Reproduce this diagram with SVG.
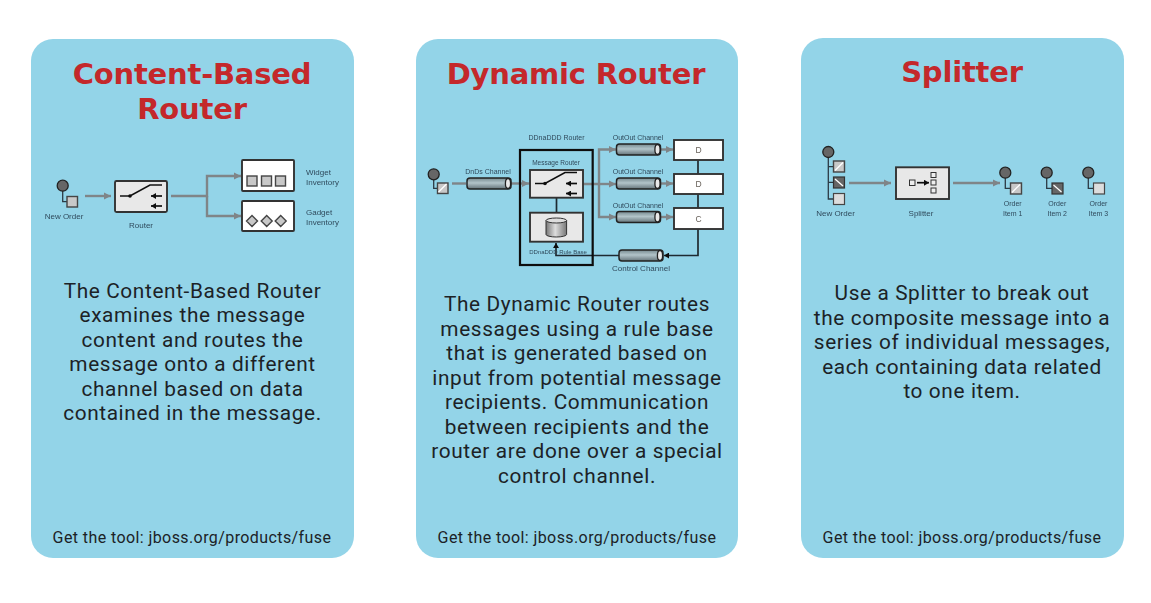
<svg xmlns="http://www.w3.org/2000/svg" width="1151" height="603" viewBox="0 0 1151 603">
<style>
.card{fill:#93d4e8}
.title{font:bold 29px "DejaVu Sans","Liberation Sans",sans-serif;letter-spacing:-.2px;fill:#c4282b;text-anchor:middle}
.body{font:20.800px Roboto,"Liberation Sans",sans-serif;letter-spacing:.62px;fill:#1c2226;text-anchor:middle}
.foot{font:16px Roboto,"Liberation Sans",sans-serif;letter-spacing:.41px;fill:#1c2226;text-anchor:middle}
.lb{font:7px "Liberation Sans",sans-serif;fill:#2f4a5c;text-anchor:middle}
.lg{font:8px "Liberation Sans",sans-serif;fill:#2f4a5c;text-anchor:middle}
.lbs{font:8px "Liberation Sans",sans-serif;fill:#2f4a5c}
.let{font:8.500px "Liberation Sans",sans-serif;fill:#665f58;text-anchor:middle}
.soft{filter:url(#soft)}
.flow{fill:none;stroke:#7f8588;stroke-width:2.4}
.blk{fill:none;stroke:#1e2a30;stroke-width:1.7}
.box{fill:#e8e8e8;stroke:#333;stroke-width:1.9}
.wbox{fill:#fff;stroke:#333;stroke-width:1.9}
.sq{fill:#c8c8c8;stroke:#444;stroke-width:1.4}
.dot{fill:#666;stroke:#222;stroke-width:1.3}
.tie{fill:none;stroke:#2a3a44;stroke-width:1.3}
.sw{fill:none;stroke:#111;stroke-width:1.7}
</style>
<defs>
<filter id="soft" x="-5%" y="-5%" width="110%" height="110%"><feGaussianBlur stdDeviation="0.55"/></filter>
<linearGradient id="pg" x1="0" y1="0" x2="0" y2="1"><stop offset="0" stop-color="#75898f"/><stop offset=".45" stop-color="#b2c4c9"/><stop offset="1" stop-color="#647379"/></linearGradient>
<linearGradient id="cg" x1="0" y1="0" x2="1" y2="0"><stop offset="0" stop-color="#777"/><stop offset=".45" stop-color="#ddd"/><stop offset="1" stop-color="#777"/></linearGradient>
<marker id="ga" markerUnits="userSpaceOnUse" markerWidth="8" markerHeight="8" refX="7" refY="4" orient="auto"><path d="M0 0.500L7 4L0 7.500z" fill="#7f8588"/></marker>
<marker id="ka" markerUnits="userSpaceOnUse" markerWidth="6" markerHeight="6" refX="5" refY="3" orient="auto"><path d="M0 0L5 3L0 6z" fill="#111"/></marker>
<g id="pipe"><rect x="0" y="-5.500" width="44" height="11" rx="3" fill="url(#pg)" stroke="#222" stroke-width="1.500"/><ellipse cx="41" cy="0" rx="2.600" ry="5" fill="#e8e8e8" stroke="#222" stroke-width="1.300"/></g>
<g id="sw"><path class="sw" d="M0 11H10L30 0H42"/><circle cx="10" cy="11" r="1.800" fill="#111"/><path class="sw" d="M42 11H31" marker-end="url(#ka)"/><path class="sw" d="M42 21H31" marker-end="url(#ka)"/></g>
</defs>

<g id="card-content-based">
<rect class="card" x="31" y="39" width="323" height="519" rx="22"/>
<text class="title" x="192" y="83.500">Content-Based</text>
<text class="title" x="192" y="118.500">Router</text>
<g class="body"><text x="192.500" y="298">The Content-Based Router</text><text x="192.500" y="322.400">examines the message</text><text x="192.500" y="346.800">content and routes the</text><text x="192.500" y="371.200">message onto a different</text><text x="192.500" y="395.600">channel based on data</text><text x="192.500" y="420">contained in the message.</text></g>
<text class="foot" x="192" y="543">Get the tool: jboss.org/products/fuse</text>
</g>
<g id="card-dynamic">
<rect class="card" x="416" y="39" width="322" height="519" rx="22"/>
<text class="title" x="576" y="84">Dynamic Router</text>
<g class="body"><text x="577" y="311">The Dynamic Router routes</text><text x="577" y="335.500">messages using a rule base</text><text x="577" y="360">that is generated based on</text><text x="577" y="384.500">input from potential message</text><text x="577" y="409">recipients. Communication</text><text x="577" y="433.500">between recipients and the</text><text x="577" y="458">router are done over a special</text><text x="577" y="482.500">control channel.</text></g>
<text class="foot" x="577" y="543">Get the tool: jboss.org/products/fuse</text>
</g>
<g id="card-splitter">
<rect class="card" x="801" y="38" width="323" height="520" rx="22"/>
<text class="title" x="962" y="81.500">Splitter</text>
<g class="body"><text x="962" y="300">Use a Splitter to break out</text><text x="962" y="324.500">the composite message into a</text><text x="962" y="349">series of individual messages,</text><text x="962" y="373.500">each containing data related</text><text x="962" y="398">to one item.</text></g>
<text class="foot" x="962" y="543">Get the tool: jboss.org/products/fuse</text>
</g>

<g id="connectors" class="soft">
<path class="flow" d="M85 196H111" marker-end="url(#ga)"/>
<path class="flow" d="M171 196H207V176H241" marker-end="url(#ga)"/>
<path class="flow" d="M207 196V216H241" marker-end="url(#ga)"/>
<path class="flow" d="M452 183.500H466"/>
<path class="flow" d="M511 183.500H529" marker-end="url(#ga)"/>
<path class="flow" d="M583 184H599V149.500H616" marker-end="url(#ga)"/>
<path class="flow" d="M599 184H616" marker-end="url(#ga)"/>
<path class="flow" d="M599 184V217H616" marker-end="url(#ga)"/>
<path class="flow" d="M661 149.500H673" marker-end="url(#ga)"/>
<path class="flow" d="M661 183.500H673" marker-end="url(#ga)"/>
<path class="flow" d="M661 217H673" marker-end="url(#ga)"/>
<path class="blk" d="M556.500 198V213M698 160V174M698 194V208"/>
<path class="blk" d="M698 229V255.500H664" marker-end="url(#ka)"/>
<path class="blk" d="M619 255.500H556V243" marker-end="url(#ka)"/>
<path class="flow" d="M849 183H891" marker-end="url(#ga)"/>
<path class="flow" d="M953 183H1000" marker-end="url(#ga)"/>
</g>

<g id="cb-new-order" class="soft"><path class="tie" d="M62.700 186V201.700H68"/><circle class="dot" cx="62.700" cy="185.700" r="5.500"/><rect class="sq" x="67" y="196.500" width="10.500" height="10.500"/><text class="lg" x="64" y="219">New Order</text></g>
<g id="cb-router" class="soft"><rect class="box" x="115" y="181" width="52" height="31" rx="1.500"/><use href="#sw" x="120" y="185"/><text class="lg" x="141" y="228">Router</text></g>
<g id="cb-widget" class="soft"><rect class="wbox" x="242" y="160" width="52" height="31" rx="1"/><rect class="sq" x="247" y="176" width="10" height="10"/><rect class="sq" x="261.500" y="176" width="10" height="10"/><rect class="sq" x="275.500" y="176" width="10" height="10"/><text class="lbs" x="306" y="175">Widget</text><text class="lbs" x="306" y="185">Inventory</text></g>
<g id="cb-gadget" class="soft"><rect class="wbox" x="242" y="201" width="52" height="30" rx="1"/><path class="sq" d="M252 215.500l5.500 5.500l-5.500 5.500l-5.500-5.500zM266.700 215.500l5.500 5.500l-5.500 5.500l-5.500-5.500zM280.700 215.500l5.500 5.500l-5.500 5.500l-5.500-5.500z"/><text class="lbs" x="306" y="215">Gadget</text><text class="lbs" x="306" y="225">Inventory</text></g>

<g id="dr-source" class="soft"><path class="tie" d="M433.700 175V188.300H438"/><circle class="dot" cx="433.700" cy="174.300" r="5.500"/><rect class="sq" x="437.500" y="183" width="10.500" height="10.500"/><path d="M438.500 192l8-8" stroke="#fff" stroke-width="1.200"/></g>
<g id="dr-in-channel" class="soft"><use href="#pipe" x="467" y="183.500"/><text class="lb" x="488" y="174">DnDs Channel</text></g>
<g id="dr-dynamic-router" class="soft"><rect x="520" y="150" width="72.700" height="115" fill="none" stroke="#111" stroke-width="2.200"/><text class="lb" x="556.500" y="140">DDnaDDD Router</text></g>
<g id="dr-message-router" class="soft"><rect class="box" x="530" y="170" width="53" height="27.700"/><use href="#sw" x="535" y="172.500"/><text class="lb" x="556" y="165" style="font-size:6.500px">Message Router</text></g>
<g id="dr-rule-base" class="soft"><rect class="box" x="530" y="212.700" width="53" height="29"/><path d="M546 220.500V234.500a10.300 2.500 0 0 0 20.600 0V220.500z" fill="url(#cg)" stroke="#333"/><ellipse cx="556.300" cy="220.500" rx="10.300" ry="2.500" fill="#ddd" stroke="#333"/><text class="lb" x="558" y="254" style="font-size:6px">DDnaDDD Rule Base</text></g>
<g id="dr-out-1" class="soft"><use href="#pipe" x="616.500" y="149.500"/><text class="lb" x="638" y="140">OutOut Channel</text></g>
<g id="dr-out-2" class="soft"><use href="#pipe" x="616.500" y="183.500"/><text class="lb" x="638" y="174">OutOut Channel</text></g>
<g id="dr-out-3" class="soft"><use href="#pipe" x="616.500" y="217"/><text class="lb" x="638" y="208">OutOut Channel</text></g>
<g id="dr-control" class="soft"><use href="#pipe" x="619" y="255.500"/><text class="lg" x="641" y="271">Control Channel</text></g>
<g id="dr-d1" class="soft"><rect class="wbox" x="674" y="140" width="49" height="20"/><text class="let" x="698.500" y="153">D</text></g>
<g id="dr-d2" class="soft"><rect class="wbox" x="674" y="174" width="49" height="20"/><text class="let" x="698.500" y="187">D</text></g>
<g id="dr-c" class="soft"><rect class="wbox" x="674" y="208" width="49" height="21"/><text class="let" x="698.500" y="222">C</text></g>

<g id="sp-new-order" class="soft"><path class="tie" d="M828.300 152V199H834M828.300 166.700H834M828.300 182.300H834" stroke-width="1.500"/><circle class="dot" cx="828.300" cy="152" r="5.500"/><rect class="sq" x="833.500" y="161" width="11" height="11"/><rect x="833.500" y="177" width="11" height="11" fill="#666" stroke="#333" stroke-width="1.200"/><rect x="833.500" y="193.500" width="11" height="11" fill="#ddd" stroke="#444" stroke-width="1.200"/><path d="M835 170.500l8-8M835 179l8 7" stroke="#fff" stroke-width="1.300"/><text class="lg" x="835.500" y="216">New Order</text></g>
<g id="sp-splitter" class="soft"><rect class="box" x="896" y="167.300" width="53" height="31.700"/><rect x="909.500" y="180" width="5.500" height="5.500" fill="#eee" stroke="#333"/><path class="sw" d="M917 182.700H929" marker-end="url(#ka)"/><rect x="931" y="172.500" width="5" height="5" fill="#eee" stroke="#333"/><rect x="931" y="180" width="5" height="5" fill="#eee" stroke="#333"/><rect x="931" y="188" width="5" height="5" fill="#eee" stroke="#333"/><text class="lg" x="921" y="216">Splitter</text></g>
<g id="sp-item-1" class="soft"><path class="tie" d="M1005.300 173V188.300H1011"/><circle class="dot" cx="1005.300" cy="172.700" r="5.500"/><rect class="sq" x="1010.500" y="183" width="11" height="11"/><path d="M1012 192.500l8-8" stroke="#fff" stroke-width="1.200"/><text class="lb" x="1012.700" y="206">Order</text><text class="lb" x="1012.700" y="216">Item 1</text></g>
<g id="sp-item-2" class="soft"><path class="tie" d="M1046.700 173V188.300H1052"/><circle class="dot" cx="1046.700" cy="172.700" r="5.500"/><rect x="1052" y="183" width="11" height="11" fill="#666" stroke="#333" stroke-width="1.200"/><path d="M1053.500 185l8 7" stroke="#fff" stroke-width="1.200"/><text class="lb" x="1057.300" y="206">Order</text><text class="lb" x="1057.300" y="216">Item 2</text></g>
<g id="sp-item-3" class="soft"><path class="tie" d="M1088.300 173V188.300H1094"/><circle class="dot" cx="1088.300" cy="172.700" r="5.500"/><rect x="1093.500" y="183" width="11" height="11" fill="#ddd" stroke="#444" stroke-width="1.200"/><text class="lb" x="1098.500" y="206">Order</text><text class="lb" x="1098.500" y="216">Item 3</text></g>
</svg>
